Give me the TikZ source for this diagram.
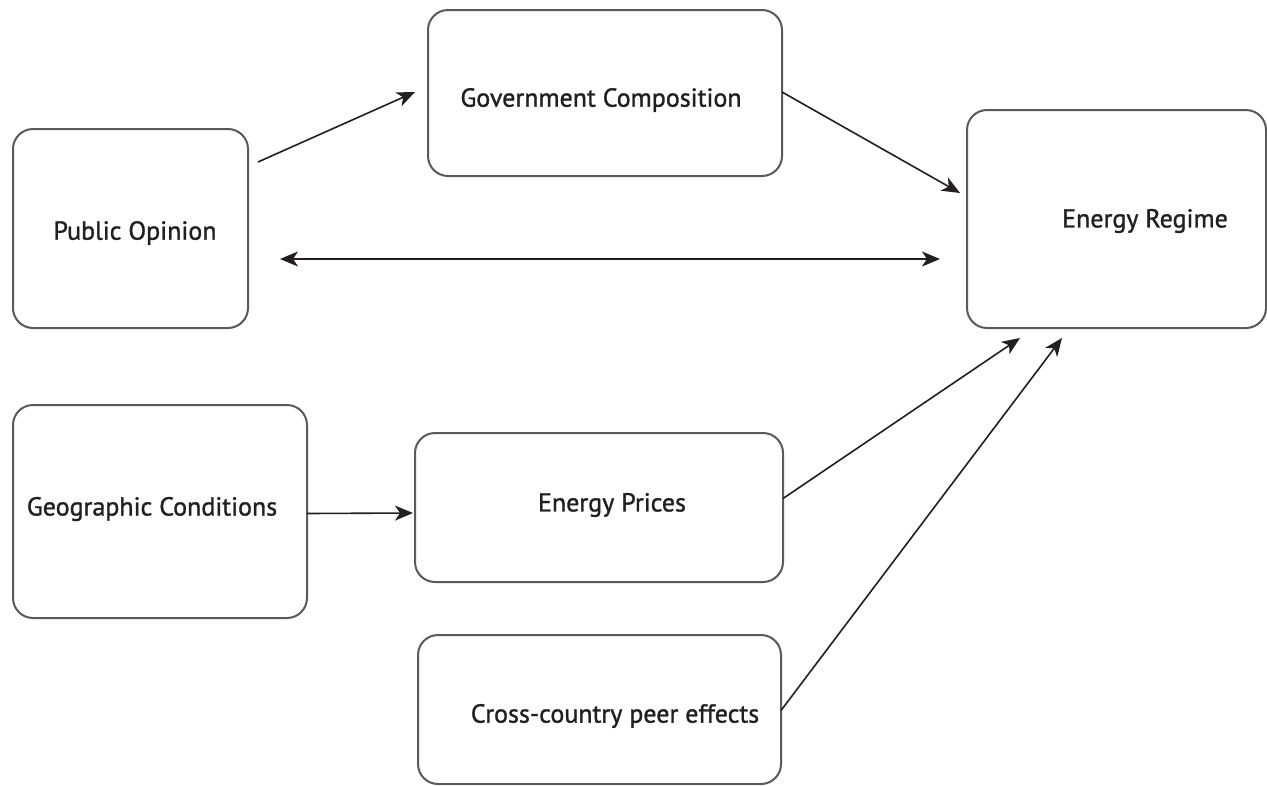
\documentclass[tikz,border=0pt]{standalone}
\usepackage{fontspec}
\setmainfont{PT Sans}[FakeBold=1.2]
\usetikzlibrary{arrows.meta,calc}
\definecolor{txt}{HTML}{231F20}
\definecolor{boxline}{HTML}{5A5A5A}
\definecolor{arr}{HTML}{231F20}
\tikzset{
  box/.style={draw=boxline,line width=2pt,rounded corners=20pt,rectangle,inner sep=0pt,outer sep=0pt,fill=white},
  lbl/.style={text=txt,font=\fontsize{26}{29}\selectfont\addfontfeatures{FakeBold=1.2},inner sep=0pt},
  conn/.style={draw=arr,line width=1.6pt,-{Stealth[length=18pt,width=15pt,inset=5pt]}},
  bconn/.style={draw=arr,line width=1.6pt,{Stealth[length=18pt,width=15pt,inset=5pt]}-{Stealth[length=18pt,width=15pt,inset=5pt]}}
}
\begin{document}
\begin{tikzpicture}[x=1pt,y=-1pt]
\useasboundingbox[fill=white] (0,0) rectangle (1267,785);
% boxes
\node[box,minimum width=235pt,minimum height=199pt] (po) at (130.5,228.5) {};
\node[box,minimum width=354pt,minimum height=166pt] (gov) at (605,93) {};
\node[box,minimum width=299pt,minimum height=218pt] (er) at (1116.5,219) {};
\node[box,minimum width=294pt,minimum height=213pt] (geo) at (160,511.5) {};
\node[box,minimum width=368pt,minimum height=149pt] (ep) at (599,507.5) {};
\node[box,minimum width=363pt,minimum height=149pt] (cc) at (599.5,709.5) {};
% labels
\node[lbl] (tpo) at (135,233) {Public Opinion};
\node[lbl] (tgov) at (601,100) {Government Composition};
\node[lbl] (ter) at (1145,221) {Energy Regime};
\node[lbl] (tgeo) at (152,509) {Geographic Conditions};
\node[lbl] (tep) at (612,505) {Energy Prices};
\node[lbl] (tcc) at (615,716) {Cross-country peer effects};
% connectors
\draw[conn] ($(po.north east)+(10,33)$) -- ($(gov.west)+(-13,-1)$);
\draw[conn] ($(gov.east)+(0,-1)$) -- ($(er.west)+(-7,-26)$);
\draw[bconn] ($(po.east)+(32,30.5)$) -- ($(er.west)+(-27,40)$);
\draw[conn] ($(geo.east)+(0,2)$) -- ($(ep.west)+(-2,5.5)$);
\draw[conn] ($(ep.east)+(0,-9)$) -- ($(er.south)+(-96.5,10)$);
\draw[conn] ($(cc.east)+(0,1)$) -- ($(er.south)+(-54.5,10)$);
\end{tikzpicture}
\end{document}
